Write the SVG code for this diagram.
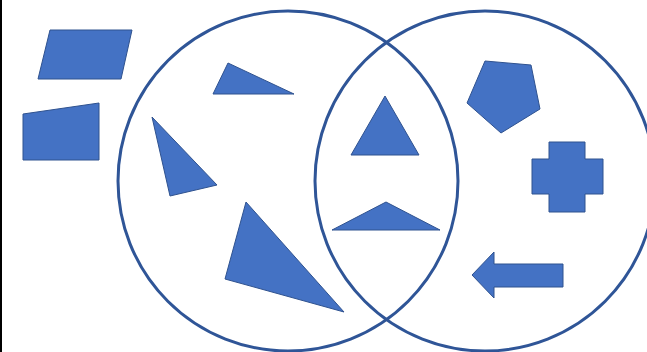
<svg xmlns="http://www.w3.org/2000/svg" width="647" height="352" viewBox="0 0 647 352">
<style>
.shape{fill:#4472C4;stroke:#2F528F;stroke-width:1;stroke-linejoin:miter}
.ring{fill:none;stroke:#2F5597;stroke-width:3}
</style>
<rect width="647" height="352" fill="#FFFFFF"/>
<line x1="1" y1="0" x2="1" y2="352" stroke="#000000" stroke-width="2"/>
<g id="circles">
<circle id="circle-left" class="ring" cx="288" cy="181" r="170"/>
<circle id="circle-right" class="ring" cx="485" cy="181" r="170"/>
</g>
<g id="parallelogram"><polygon class="shape" points="50,30 132,30 121,79 38,79"/></g>
<g id="quadrilateral"><polygon class="shape" points="23,114 99,103 99,160 23,160"/></g>
<g id="triangle-1"><polygon class="shape" points="228,63 294,94 213,94"/></g>
<g id="triangle-2"><polygon class="shape" points="152,117 217,185 170,196"/></g>
<g id="triangle-3"><polygon class="shape" points="246,202 344,312 225,279"/></g>
<g id="triangle-4"><polygon class="shape" points="385,96 419,155 351,155"/></g>
<g id="triangle-5"><polygon class="shape" points="386,202 440,230 332,230"/></g>
<g id="pentagon"><polygon class="shape" points="485,61 531,65 540,109 501,133 467,103"/></g>
<g id="cross"><polygon class="shape" points="549,142 585,142 585,159 603,159 603,194 585,194 585,212 549,212 549,194 532,194 532,159 549,159"/></g>
<g id="arrow"><polygon class="shape" points="472,275 494,252 494,264 563,264 563,287 494,287 494,298"/></g>
</svg>
